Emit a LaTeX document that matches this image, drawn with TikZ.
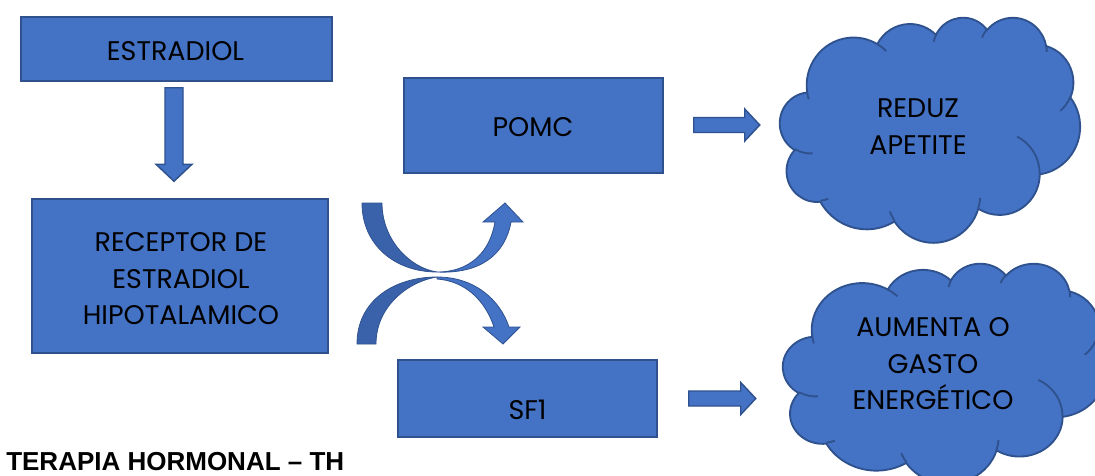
\documentclass[tikz,border=0pt]{standalone}
\usepackage{fontspec}
\setmainfont{Poppins}
\newfontfamily\titlefont{Liberation Sans}
\usetikzlibrary{calc}

\definecolor{boxblue}{HTML}{4472C4}
\definecolor{edgeblue}{HTML}{2F528F}
\definecolor{backblue}{HTML}{3A62AB}

% elliptical arc whose angles are measured as directions from the centre
\newcommand\oarc[4]{arc[start angle={#3+cf(#3,#1,#2)}, delta angle={#4+cf(#3+#4,#1,#2)-cf(#3,#1,#2)}, x radius=#1, y radius=#2]}

% cloud outline in a 43.2 x 43.2 grid, placed at (left, top) with size width x height (px)
\newcommand\drawcloud[4]{%
  \pgfmathsetmacro\cldx{#3/43.2*0.75}%
  \pgfmathsetmacro\cldy{#4/43.2*0.75}%
  \begin{scope}[shift={(#1,#2)}, x=\cldx pt, y=-\cldy pt]
    \filldraw[cloudbody] (3.9,14.37)
      \oarc{6.753}{9.19}{-190.4875}{123.7805}
      \oarc{5.333}{7.267}{-144.1024}{89.9452}
      \oarc{4.365}{5.945}{-145.8079}{99.7230}
      \oarc{4.857}{6.595}{-130.9861}{117.2417}
      \oarc{5.333}{7.273}{-78.7089}{109.0269}
      \oarc{6.775}{9.22}{-46.2673}{130.2690}
      \oarc{5.785}{7.867}{0.6250}{114.0333}
      \oarc{6.752}{9.215}{22.4516}{115.1726}
      \oarc{7.72}{10.543}{66.2426}{75.7110}
      \oarc{4.36}{5.918}{-274.9421}{146.7356}
      \oarc{4.345}{5.945}{-246.8285}{152.5189}
      -- cycle;
    \draw[cloudline]
      (4.693,26.177) \oarc{4.345}{5.945}{86.742}{26.4295}
      (6.928,34.899) \oarc{4.36}{5.918}{73.6105}{11.4475}
      (16.478,39.09) \oarc{6.752}{9.215}{137.6242}{14.0811}
      (28.827,34.751) \oarc{6.752}{9.215}{6.4533}{15.9984}
      (34.129,22.954) \oarc{5.785}{7.867}{-70.2924}{70.9174}
      (41.798,15.354) \oarc{5.333}{7.273}{30.3180}{27.7515}
      (38.324,5.426) \oarc{4.857}{6.595}{-13.7443}{14.8589}
      (29.078,3.952) \oarc{4.857}{6.595}{-149.1815}{18.1954}
      (22.141,4.72) \oarc{4.365}{5.945}{-163.4943}{17.6864}
      (14.0,5.192) \oarc{6.753}{9.19}{-66.7070}{12.3194}
      (4.127,15.789) \oarc{6.753}{9.19}{157.6544}{11.8582};
  \end{scope}}

% block arrow pointing right, from tail centre #1 to tip #2
\newcommand\rightblock[2]{%
  \filldraw[blockarrow] ($(#1)+(0,-7.5)$) -- ($(#2)+(-15,-7.5)$) -- ($(#2)+(-15,-16)$)
    -- (#2) -- ($(#2)+(-15,16)$) -- ($(#2)+(-15,7.5)$) -- ($(#1)+(0,7.5)$) -- cycle;}
% block arrow pointing down, from tail centre #1 to tip #2
\newcommand\downblock[2]{%
  \filldraw[blockarrow] ($(#1)+(-9,0)$) -- ($(#2)+(-9,-17)$) -- ($(#2)+(-18,-17)$)
    -- (#2) -- ($(#2)+(18,-17)$) -- ($(#2)+(9,-17)$) -- ($(#1)+(9,0)$) -- cycle;}

\tikzset{
  blockbox/.style={draw=edgeblue, fill=boxblue, line width=1.1pt, inner sep=0pt},
  labeltext/.style={align=center, inner sep=0pt, text=black,
    font=\fontsize{20.2pt}{27.4pt}\selectfont},
  cloudbody/.style={draw=edgeblue, fill=boxblue, line width=1.4pt},
  cloudline/.style={draw=edgeblue, line width=1.4pt},
  blockarrow/.style={draw=edgeblue, fill=boxblue, line width=1.1pt, line join=miter},
  curvefront/.style={draw=edgeblue, fill=boxblue, line width=0.6pt},
  curveback/.style={draw=edgeblue, fill=backblue, line width=0.6pt},
}

\begin{document}
\begin{tikzpicture}[x=0.75pt, y=-0.75pt,
  declare function={cf(\a,\w,\h)=atan(((\w)-(\h))*sin(\a)*cos(\a)/((\h)*cos(\a)^2+(\w)*sin(\a)^2));}]
  \useasboundingbox (0,0) rectangle (1095,475);
  \clip (0,0) rectangle (1095,475);

  % boxes
  \node[blockbox, minimum width=311*0.75pt, minimum height=64*0.75pt] (estradiol) at (176.5,49) {};
  \node[blockbox, minimum width=296*0.75pt, minimum height=154*0.75pt] (receptor) at (180,276) {};
  \node[blockbox, minimum width=259*0.75pt, minimum height=95*0.75pt] (pomc) at (533.5,125.5) {};
  \node[blockbox, minimum width=259*0.75pt, minimum height=77*0.75pt] (sf1) at (527.5,398.5) {};
  % box texts, set slightly below the box centres
  \node[labeltext] (estradioltext) at ($(estradiol.center)+(-1,2.5)$) {ESTRADIOL};
  \node[labeltext] (receptortext) at ($(receptor.center)+(1,3)$) {RECEPTOR DE\\ESTRADIOL\\HIPOTALAMICO};
  \node[labeltext] (pomctext) at ($(pomc.center)+(-0.5,2)$) {POMC};
  \node[labeltext] (sf1text) at ($(sf1.center)+(0,11)$) {SF1};

  % clouds
  \drawcloud{780}{17}{300}{225}
  \drawcloud{783}{263}{323}{220}
  \node[labeltext] (reduz) at (918,126.5) {REDUZ\\APETITE};
  \node[labeltext] (gasto) at (933,364) {AUMENTA O\\GASTO\\ENERGÉTICO};

  % straight block arrows
  \coordinate (downtail) at ($(estradiol.south)+(-2.5,6)$);
  \coordinate (downtip) at ($(receptor.north)+(-6,-17)$);
  \downblock{downtail}{downtip}
  \coordinate (pomctail) at ($(pomc.east)+(30,-0.5)$);
  \coordinate (pomctip) at ($(pomc.east)+(96,-0.5)$);
  \rightblock{pomctail}{pomctip}
  \coordinate (sftail) at ($(sf1.east)+(31,0)$);
  \coordinate (sftip) at ($(sf1.east)+(98,0)$);
  \rightblock{sftail}{sftip}

  % crossing curved arrows: upper one rises to POMC, lower one drops to SF1
  \filldraw[curveback] (362,203) .. controls (362,245) and (395,272) .. (437,272)
    .. controls (410,268) and (382,240) .. (382,203) -- cycle;
  \filldraw[curvefront] (437,272) .. controls (470,272) and (490,252) .. (495,222)
    -- (483,222) -- (505,203) -- (523,222) -- (511,222)
    .. controls (505,255) and (480,274) .. (437,272) -- cycle;
  \filldraw[curveback] (357,344) .. controls (357,300) and (395,277) .. (437,277)
    .. controls (410,281) and (376,305) .. (376,344) -- cycle;
  \filldraw[curvefront] (437,277) .. controls (475,277) and (500,300) .. (509,327)
    -- (520,327) -- (503,344) -- (483,327) -- (494,327)
    .. controls (485,300) and (465,281) .. (437,279) -- cycle;

  % caption
  \node[anchor=base west, inner sep=0pt, font=\titlefont\bfseries\fontsize{19.5pt}{22pt}\selectfont] (title) at (6,470) {TERAPIA HORMONAL – TH};
\end{tikzpicture}
\end{document}
